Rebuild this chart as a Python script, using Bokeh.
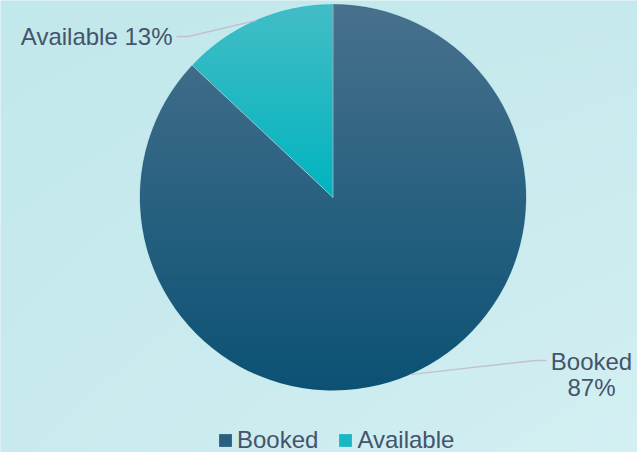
import numpy as np
from bokeh.plotting import figure
from bokeh.models import Range1d, Legend, LegendItem, ColumnDataSource
from bokeh.embed import file_html
from bokeh.resources import INLINE
from bokeh.core.properties import value

# ---------------- data ----------------
categories = ["Booked", "Available"]
shares = [87, 13]

# ---------------- styles / layout ----------------
W, H = 637, 452
CX, CY_S, R = 332.5, 197.0, 193.0           # pie centre (screen coords) and radius
FONT = "Liberation Sans"
TEXT = "#44546a"
LEADER = "#c3c0cf"
BOTTOM_COLORS = {"Booked": (12, 82, 116), "Available": (0, 180, 192)}
TOP_COLORS = {"Booked": (72, 113, 141), "Available": (66, 189, 197)}
LEGEND_COLORS = {"Booked": "#2a5f80", "Available": "#1ab6c2"}
BG_CORNERS = dict(tl=(193, 232, 236), tr=(198, 233, 237), bl=(200, 234, 238), br=(211, 239, 242))
LABEL_LAYOUT = {
    "Booked": dict(elbow=(535, 360), end=(546, 360), x=591, align="center", baselines=[361, 387], split=True),
    "Available": dict(elbow=(188, 36), end=(176, 36), x=172, align="right", baselines=[36], split=False),
}


def to_data_y(y_screen):
    return H - y_screen


def hexc(c):
    return "#%02x%02x%02x" % tuple(int(v) for v in c)


p = figure(width=W, height=H, x_range=Range1d(0, W), y_range=Range1d(0, H),
           output_backend="svg", toolbar_location=None, min_border=0,
           x_axis_type=None, y_axis_type=None)
p.grid.visible = False
p.outline_line_color = None
p.background_fill_color = "#c9eaee"
p.border_fill_color = "#c9eaee"

# ---------------- background gradient ----------------
yy, xx = np.mgrid[0:H, 0:W].astype(float)
u = (xx + 0.5) / W
v = (yy + 0.5) / H
bg = np.zeros((H, W, 4), dtype=np.uint8)
for k in range(3):
    bg[..., k] = np.round((1 - u) * (1 - v) * BG_CORNERS["tl"][k] + u * (1 - v) * BG_CORNERS["tr"][k]
                          + (1 - u) * v * BG_CORNERS["bl"][k] + u * v * BG_CORNERS["br"][k]).astype(np.uint8)
bg[..., 3] = 255
bg_img = np.ascontiguousarray(bg[::-1]).view(np.uint32).reshape(H, W)
p.image_rgba(image=[bg_img], x=0, y=0, dw=W, dh=H)

# ---------------- pie wedges ----------------
frac = np.array(shares, dtype=float) / sum(shares)
cum = np.concatenate([[0.0], np.cumsum(frac)])
start = np.pi / 2 - 2 * np.pi * cum[1:]
end = np.pi / 2 - 2 * np.pi * cum[:-1]
n = len(categories)
src = ColumnDataSource(dict(cat=categories, start=start, end=end,
                            color=[hexc(BOTTOM_COLORS[c]) for c in categories],
                            legend_color=[LEGEND_COLORS[c] for c in categories],
                            x=[CX] * n, y=[to_data_y(CY_S)] * n))
wedges = p.wedge(x="x", y="y", radius=R, start_angle="start", end_angle="end",
                 fill_color="color", line_color=None, source=src)
# legend-only proxy (zero radius) carrying the legend swatch colours
proxy = p.wedge(x="x", y="y", radius=0, start_angle="start", end_angle="end",
                fill_color="legend_color", line_color=None, source=src)

# vertical gradient overlay per slice (top colour fading to transparent)
px = xx + 0.5
py = yy + 0.5
dx = px - CX
dy = CY_S - py
d = np.hypot(dx, dy)
cov = np.clip(R - d + 0.5, 0, 1)
ang = np.arctan2(dy, dx)
f = np.mod(np.pi / 2 - ang, 2 * np.pi) / (2 * np.pi)
ov = np.zeros((H, W, 4), dtype=np.uint8)
for i, c in enumerate(categories):
    m = (f >= cum[i]) & (f < cum[i + 1]) & (cov > 0)
    rows = py[m]
    top, bot = rows.min(), rows.max()
    t = np.clip((py - top) / (bot - top), 0, 1)
    a = (1 - t) * cov
    for k in range(3):
        ov[..., k][m] = TOP_COLORS[c][k]
    ov[..., 3][m] = np.round(a[m] * 255).astype(np.uint8)
ov_img = np.ascontiguousarray(ov[::-1]).view(np.uint32).reshape(H, W)
p.image_rgba(image=[ov_img], x=0, y=0, dw=W, dh=H)

# seams between slices
b_ang = np.pi / 2 - 2 * np.pi * cum[:-1]
p.segment(x0=[CX] * n, y0=[to_data_y(CY_S)] * n,
          x1=list(CX + R * np.cos(b_ang)), y1=list(to_data_y(CY_S) + R * np.sin(b_ang)),
          line_color="#ffffff", line_alpha=0.45, line_width=1)

# ---------------- labels with leader lines ----------------
mid = np.pi / 2 - 2 * np.pi * (cum[:-1] + cum[1:]) / 2
for i, c in enumerate(categories):
    lay = LABEL_LAYOUT[c]
    ax = CX + R * np.cos(mid[i])
    ay = to_data_y(CY_S) + R * np.sin(mid[i])
    p.line(x=[ax, lay["elbow"][0], lay["end"][0]],
           y=[ay, to_data_y(lay["elbow"][1]), to_data_y(lay["end"][1])],
           line_color=LEADER, line_width=1.5)
    lines = [c, f"{shares[i]}%"] if lay["split"] else [f"{c} {shares[i]}%"]
    p.text(x=[lay["x"]] * len(lines), y=[to_data_y(b) for b in lay["baselines"]], text=lines,
           text_font=value(FONT), text_font_size="24px", text_color=TEXT,
           text_align=lay["align"], text_baseline="alphabetic")

# ---------------- legend ----------------
legend = Legend(items=[LegendItem(label=c, renderers=[proxy], index=i) for i, c in enumerate(categories)],
                orientation="horizontal", location=(217, -2),
                glyph_width=16, glyph_height=16, label_standoff=4, spacing=19,
                label_text_font=FONT, label_text_font_size="24px", label_text_color=TEXT,
                padding=0, margin=0, border_line_color=None, background_fill_alpha=0)
p.add_layout(legend)

open("out.html", "w").write(file_html(p, INLINE))
